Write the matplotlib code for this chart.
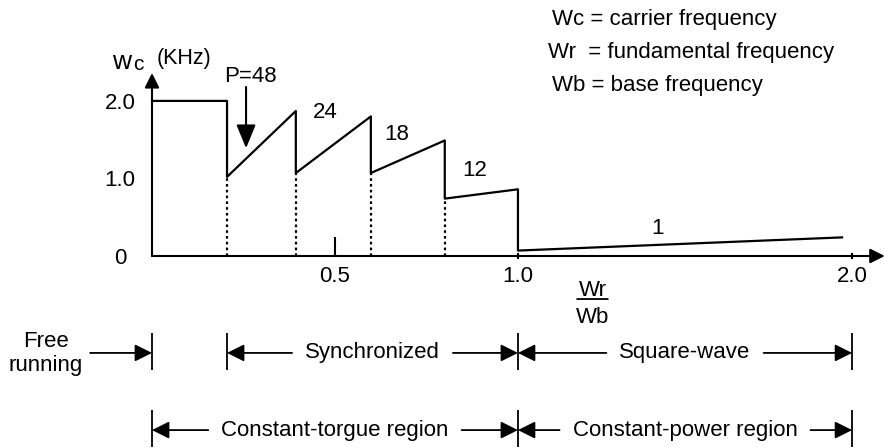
import numpy as np
import matplotlib
matplotlib.use('Agg')
import matplotlib.pyplot as plt

plt.rcParams['font.family'] = ['Liberation Sans', 'DejaVu Sans']

# carrier frequency (kHz) against Wr/Wb
free_run_wc = 2.0
sync_edges = [0.205, 0.393, 0.598, 0.80, 1.0]
pulse_numbers = ['P=48', '24', '18', '12']
wc_seg_start = [1.02, 1.07, 1.07, 0.74]
wc_seg_end = [1.87, 1.80, 1.49, 0.86]
square_wave_x = [1.0, 1.97]
square_wave_wc = [0.07, 0.24]
square_wave_label = '1'

y_ticks = [0, 1.0, 2.0]
y_tick_labels = ['0', '1.0', '2.0']
x_ticks = [1.0, 2.0]
x_tick_labels = ['1.0', '2.0']
x_minor = [0.5]
x_minor_labels = ['0.5']

# operating modes under the axis
mode_names = ['Synchronized', 'Square-wave']
mode_start = [0.205, 1.0]
mode_end = [1.0, 2.0]
region_names = ['Constant-torgue region', 'Constant-power region']
region_start = [0.0, 1.0]
region_end = [1.0, 2.0]

notes = ['Wc = carrier frequency', 'Wr  = fundamental frequency', 'Wb = base frequency']

# the drawing squeezes the part above Wr/Wb = 1
SQUEEZE = 0.913


def fwd(x):
    x = np.asarray(x, dtype=float)
    return np.where(x <= 1, x, 1 + (x - 1) * SQUEEZE)


def inv(t):
    t = np.asarray(t, dtype=float)
    return np.where(t <= 1, t, 1 + (t - 1) / SQUEEZE)


W, H = 884, 448
fig = plt.figure(figsize=(W / 100, H / 100), dpi=100)
ax = fig.add_axes([152 / W, 192 / H, 733.5 / W, 183 / H])
ax.set_xscale('function', functions=(fwd, inv))
ax.set_xlim(0, 2.1)
ax.set_ylim(0, 2.36)
for s in ax.spines.values():
    s.set_visible(False)

arrow_kw = dict(arrowstyle='-|>', color='black', lw=1.5, mutation_scale=22,
                shrinkA=0, shrinkB=0)
ax.annotate('', xy=(0.999, 0), xytext=(0, 0), xycoords='axes fraction',
            arrowprops=arrow_kw, annotation_clip=False)
ax.annotate('', xy=(0, 1), xytext=(0, 0), xycoords='axes fraction',
            arrowprops=arrow_kw, annotation_clip=False)

# ticks
ax.set_yticks(y_ticks, y_tick_labels)
ax.tick_params(axis='y', length=0, pad=23, labelsize=16)
for lab in ax.get_yticklabels():
    lab.set_ha('center')
ax.set_xticks(x_ticks, x_tick_labels)
ax.set_xticks(x_minor, x_minor_labels, minor=True)
ax.tick_params(axis='x', which='major', direction='inout', length=5, width=1.5,
               pad=5, labelsize=16)
ax.tick_params(axis='x', which='minor', direction='in', length=14, width=1.5,
               pad=7.5, labelsize=16)

# the carrier frequency curve
xs = [0, sync_edges[0]]
ys = [free_run_wc, free_run_wc]
for i in range(len(pulse_numbers)):
    xs += [sync_edges[i], sync_edges[i + 1]]
    ys += [wc_seg_start[i], wc_seg_end[i]]
xs += square_wave_x
ys += square_wave_wc
ax.plot(xs, ys, color='black', lw=1.6, clip_on=False)
ax.vlines(sync_edges[:-1], 0, wc_seg_start, colors='black',
          linestyles=(0, (1.2, 1.4)), lw=1.6)

# pulse number labels
label_pos = [(0.268, 2.32), (0.473, 1.85), (0.669, 1.57), (0.883, 1.10)]
for name, (lx, ly) in zip(pulse_numbers, label_pos):
    ax.text(lx, ly, name, fontsize=16, ha='center', va='center')
ax.text(1.419, 0.36, square_wave_label, fontsize=16, ha='center', va='center')
ax.annotate('', xy=(0.257, 1.39), xytext=(0.257, 2.18),
            arrowprops=dict(arrowstyle='-|>,head_length=0.8,head_width=0.33',
                            color='black', lw=1.5, mutation_scale=18,
                            shrinkA=0, shrinkB=0))

# axis titles
ax.text(-0.109, 2.41, 'w', fontsize=19, va='baseline', clip_on=False)
ax.text(-0.052, 2.40, 'c', fontsize=15, va='baseline', clip_on=False)
ax.text(0.014, 2.55, '(KHz)', fontsize=15.5, va='center', clip_on=False)
ax.text(1.224, -0.44, 'Wr', fontsize=16, ha='center', va='center')
ax.text(1.224, -0.79, 'Wb', fontsize=16, ha='center', va='center')
ax.annotate('', xy=(1.269, -0.555), xytext=(1.177, -0.555),
            arrowprops=dict(arrowstyle='-', color='black', lw=1.3,
                            shrinkA=0, shrinkB=0), annotation_clip=False)

# region rows below the axis
span_kw = dict(arrowstyle='-|>', color='black', lw=1.3, mutation_scale=26,
               shrinkA=0, shrinkB=0)
fig.canvas.draw()
renderer = fig.canvas.get_renderer()
to_data = ax.transData.inverted()


def span_row(names, starts, ends, y, bar_lo, bar_hi, gap=13):
    bars = sorted(set(starts) | set(ends))
    ax.vlines(bars, bar_lo, bar_hi, colors='black', lw=1.3, clip_on=False)
    for name, a, b in zip(names, starts, ends):
        mid = float(inv((fwd(a) + fwd(b)) / 2))
        t = ax.text(mid, y, name, fontsize=16, ha='center', va='center')
        bb = t.get_window_extent(renderer)
        left = to_data.transform((bb.x0 - gap, 0))[0]
        right = to_data.transform((bb.x1 + gap, 0))[0]
        ax.annotate('', xy=(a, y), xytext=(left, y), arrowprops=span_kw,
                    annotation_clip=False)
        ax.annotate('', xy=(b, y), xytext=(right, y), arrowprops=span_kw,
                    annotation_clip=False)


span_row(mode_names, mode_start, mode_end, -1.25, -0.99, -1.47)
ax.vlines([0], -0.99, -1.47, colors='black', lw=1.3, clip_on=False)
ax.text(-0.291, -1.26, 'Free\nrunning', fontsize=16, ha='center', va='center')
ax.annotate('', xy=(0, -1.25), xytext=(-0.169, -1.25), arrowprops=span_kw,
            annotation_clip=False)
span_row(region_names, region_start, region_end, -2.245, -1.99, -2.46)

# notes in the corner
for i, note in enumerate(notes):
    fig.text((552 - (4 if i == 1 else 0)) / W, 1 - (19 + 33.5 * i) / H, note,
             fontsize=16, va='center')

fig.savefig('out.png', dpi=100)
